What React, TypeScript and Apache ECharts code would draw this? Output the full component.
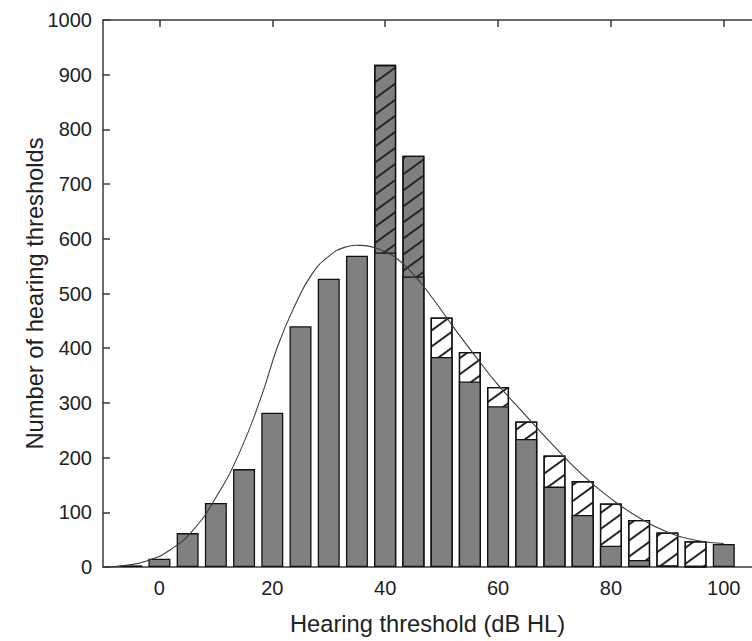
import React, { useEffect, useRef } from "react";
import * as echarts from "echarts";

// Bin centres (dB HL)
const binCentres = [-5, 0, 5, 10, 15, 20, 25, 30, 35, 40, 45, 50, 55, 60, 65, 70, 75, 80, 85, 90, 95, 100];
// Solid grey part of each bar
const solidCounts = [3, 15, 62, 117, 179, 282, 440, 527, 569, 575, 531, 384, 339, 294, 234, 147, 95, 39, 13, 3, 0, 42];
// Top of the hatched part, grey background (bins 40, 45)
const hatchedGreyBins = [40, 45];
const hatchedGreyTops = [918, 752];
// Top of the hatched part, white background (bins 50..95)
const hatchedWhiteBins = [50, 55, 60, 65, 70, 75, 80, 85, 90, 95];
const hatchedWhiteTops = [456, 393, 329, 266, 204, 157, 116, 86, 63, 47];
// Fitted curve, points
const curveX = [-10, -6, -2, 2, 6, 10, 14, 18, 21, 24, 27, 30, 33, 35.5, 38, 41.5, 45, 48.5, 52, 56, 60, 65, 70, 75, 80, 85, 90, 95, 100];
const curveY = [0, 3, 12, 32, 68, 127, 205, 310, 405, 478, 535, 568, 585, 588, 584, 568, 535, 490, 440, 385, 333, 276, 220, 168, 125, 90, 64, 49, 43];
// Tick labels
const xTicks = [0, 20, 40, 60, 80, 100];

const FONT = "'Liberation Sans', Arial, sans-serif";
const AXIS_COLOR = "#3a3a3a";
const TEXT_COLOR = "#222222";
const BAR_GREY = "#808080";
const BAR_BORDER = "#111111";

export default function App() {
  const ref = useRef<HTMLDivElement>(null);

  useEffect(() => {
    if (!ref.current) return;
    const chart = echarts.init(ref.current, undefined, { renderer: "svg" });

    const hatchDecal = (bg: string) => ({
      symbol: "rect",
      symbolSize: 1,
      color: "#262626",
      backgroundColor: bg,
      dashArrayX: [1, 0],
      dashArrayY: [1.1, 11],
      rotation: -Math.PI / 5,
    });

    const barCommon = {
      type: "bar" as const,
      barWidth: 22,
      barGap: "-100%",
      xAxisIndex: 0,
      yAxisIndex: 0,
    };

    chart.setOption({
      animation: false,
      textStyle: { fontFamily: FONT },
      grid: { left: 103, top: 20, width: 656.5, height: 552, containLabel: false },
      xAxis: [
        {
          type: "value",
          position: "bottom",
          min: -10,
          max: 105,
          name: "Hearing threshold (dB HL)",
          nameLocation: "middle",
          nameGap: 45,
          nameMoveOverlap: false,
          nameTextStyle: { fontSize: 23.7, color: TEXT_COLOR, fontFamily: FONT },
          axisLine: { show: true, onZero: false, lineStyle: { color: AXIS_COLOR, width: 1.5 } },
          axisTick: { show: true, inside: true, length: 7, customValues: xTicks, lineStyle: { color: AXIS_COLOR, width: 1.5 } },
          axisLabel: { show: true, customValues: xTicks, fontSize: 20, color: TEXT_COLOR, margin: 11, fontFamily: FONT },
          splitLine: { show: false },
        },
        {
          type: "value",
          position: "top",
          min: -10,
          max: 105,
          axisLine: { show: true, onZero: false, lineStyle: { color: AXIS_COLOR, width: 1.5 } },
          axisTick: { show: true, inside: true, length: 7, customValues: xTicks, lineStyle: { color: AXIS_COLOR, width: 1.5 } },
          axisLabel: { show: false },
          splitLine: { show: false },
        },
      ],
      yAxis: [
        {
          type: "value",
          min: 0,
          max: 1000,
          interval: 100,
          name: "Number of hearing thresholds",
          nameLocation: "middle",
          nameGap: 56,
          nameMoveOverlap: false,
          nameTextStyle: { fontSize: 23.7, color: TEXT_COLOR, fontFamily: FONT },
          axisLine: { show: true, onZero: false, lineStyle: { color: AXIS_COLOR, width: 1.5 } },
          axisTick: { show: true, inside: true, length: 7, lineStyle: { color: AXIS_COLOR, width: 1.5 } },
          axisLabel: { fontSize: 20, color: TEXT_COLOR, margin: 11, fontFamily: FONT, formatter: (v: number) => String(v) },
          splitLine: { show: false },
        },
      ],
      series: [
        {
          ...barCommon,
          name: "hatchedGrey",
          data: hatchedGreyBins.map((x, i) => [x, hatchedGreyTops[i]]),
          itemStyle: { color: BAR_GREY, borderColor: BAR_BORDER, borderWidth: 1.3, decal: hatchDecal(BAR_GREY) },
        },
        {
          ...barCommon,
          name: "hatchedWhite",
          data: hatchedWhiteBins.map((x, i) => [x, hatchedWhiteTops[i]]),
          itemStyle: { color: "#ffffff", borderColor: BAR_BORDER, borderWidth: 1.3, decal: hatchDecal("#ffffff") },
        },
        {
          ...barCommon,
          name: "solid",
          data: binCentres.map((x, i) => [x, solidCounts[i]]),
          itemStyle: { color: BAR_GREY, borderColor: BAR_BORDER, borderWidth: 1.3 },
        },
        {
          type: "custom",
          name: "fit",
          coordinateSystem: "cartesian2d",
          xAxisIndex: 0,
          yAxisIndex: 0,
          z: 5,
          silent: true,
          data: curveX.map((x, i) => [x, curveY[i]]),
          encode: { x: 0, y: 1 },
          renderItem: (params: any, api: any) => {
            if (params.dataIndex !== 0) return null;
            const pts = curveX.map((x, i) => api.coord([x, curveY[i]]));
            return {
              type: "polyline",
              shape: { points: pts, smooth: 0.5 },
              style: { fill: "none", stroke: "#3c3c3c", lineWidth: 1.1 },
            };
          },
        },
      ],
    });

    return () => chart.dispose();
  }, []);

  return (
    <div
      ref={ref}
      style={{ position: "absolute", left: 0, top: 0, width: 752, height: 641, background: "#ffffff" }}
    />
  );
}
